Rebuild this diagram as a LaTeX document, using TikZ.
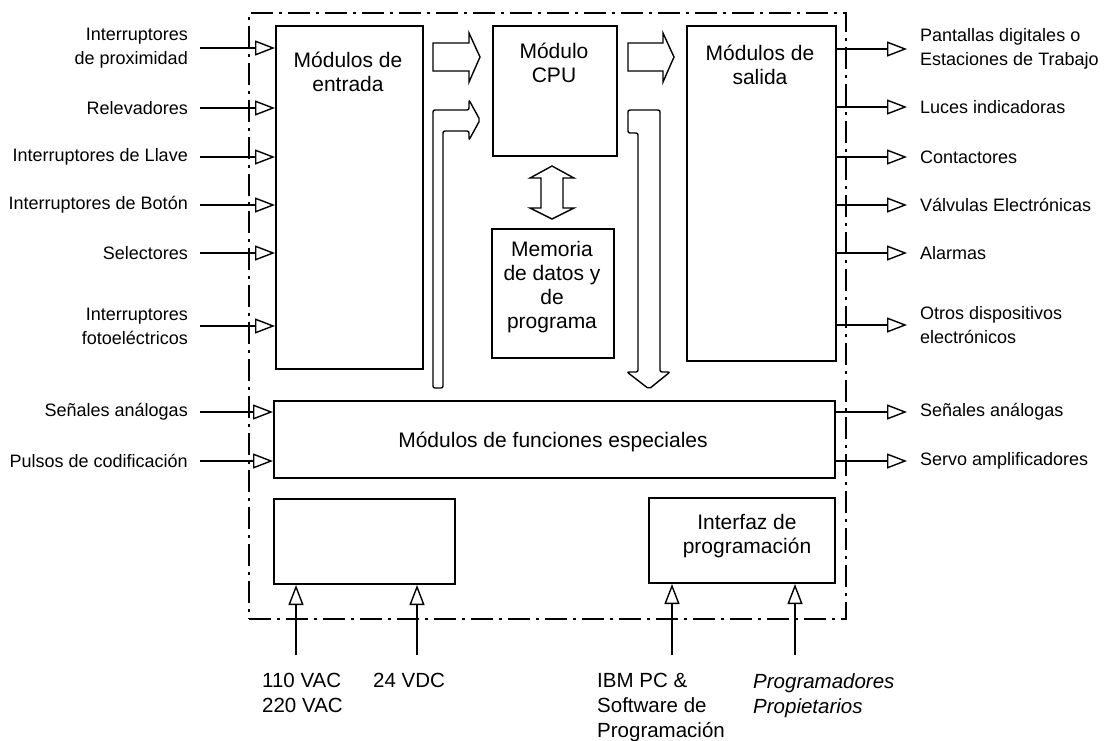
\documentclass[tikz,border=0pt]{standalone}
\usepackage{fontspec}
\setmainfont{Liberation Sans}
\usetikzlibrary{arrows.meta}
\begin{document}
\begin{tikzpicture}[x=1pt,y=-1pt,
  box/.style={draw, line width=2pt, anchor=north west, inner sep=0pt},
  lab/.style={inner sep=0pt, font=\fontsize{18}{24}\selectfont},
  boxtext/.style={inner sep=0pt, align=center, font=\fontsize{21}{24}\selectfont},
  btm/.style={inner sep=0pt, anchor=north west, align=left, font=\fontsize{20.5}{25}\selectfont},
  sig/.style={line width=1.8pt, -{Triangle[open, length=20pt, width=15pt, line width=1.4pt]}},
  plcframe/.style={draw, line width=1.8pt, dash pattern=on 22pt off 6pt on 3pt off 6pt, anchor=north west, inner sep=0pt},
  bus/.style={draw, line width=1.4pt, fill=white, line join=miter}
]
\useasboundingbox (0,0) rectangle (1104,740);

% outer frame
\node[plcframe, minimum width=597pt, minimum height=606pt] (plc) at (248,12) {};

% boxes
\node[box, minimum width=147pt, minimum height=343pt] (in) at (275,25) {};
\node[box, minimum width=124pt, minimum height=130pt] (cpu) at (492,25) {};
\node[box, minimum width=122pt, minimum height=129pt] (mem) at (491,228) {};
\node[box, minimum width=149pt, minimum height=335pt] (out) at (686,25) {};
\node[box, minimum width=561pt, minimum height=77pt] (spec) at (273,400) {};
\node[box, minimum width=181pt, minimum height=85pt] (pow) at (273,498) {};
\node[box, minimum width=186pt, minimum height=85pt] (prog) at (648,497) {};

% box texts
\node[boxtext] (inT) at (348,72) {Módulos de\\entrada};
\node[boxtext] (cpuT) at (554,63) {Módulo\\CPU};
\node[boxtext] (outT) at (760,65) {Módulos de\\salida};
\node[boxtext] (memT) at (552,287) {Memoria\\de datos y\\de\\programa};
\node[boxtext] (specT) at (553,442) {Módulos de funciones especiales};
\node[boxtext] (progT) at (747,536) {Interfaz de\\programación};

% bus arrows
\draw[bus] (433,43) -- (469,43) -- (469,33) -- (480,57) -- (469,82) -- (469,71) -- (433,71) -- cycle;
\draw[bus] (628,43) -- (663,43) -- (663,33) -- (674,57) -- (663,82) -- (663,71) -- (628,71) -- cycle;
\draw[bus, rounded corners=2pt] (433,388) -- (433,110) -- (469,110) -- (469,100) -- (480,120) -- (469,140) -- (469,131) -- (443,131) -- (443,388) -- cycle;
\draw[bus, rounded corners=2pt] (628,110) -- (660,110) -- (660,372) -- (670,372) -- (649,389) -- (627,372) -- (638,372) -- (638,133) -- (628,133) -- cycle;
\draw[bus] (541,178) -- (530,178) -- (552,166) -- (574,178) -- (563,178) -- (563,208) -- (574,208) -- (552,219) -- (530,208) -- (541,208) -- cycle;

% left inputs
\node[lab, anchor=east, align=right] (i1) at (188,48) {Interruptores\\de proximidad};
\node[lab, anchor=east] (i2) at (188,108) {Relevadores};
\node[lab, anchor=east] (i3) at (188,157) {Interruptores de Llave};
\node[lab, anchor=east] (i4) at (188,205) {Interruptores de Botón};
\node[lab, anchor=east] (i5) at (188,253) {Selectores};
\node[lab, anchor=east, align=right] (i6) at (188,326) {Interruptores\\fotoeléctricos};
\node[lab, anchor=east] (i7) at (188,412) {Señales análogas};
\node[lab, anchor=east] (i8) at (188,461) {Pulsos de codificación};
\foreach \n in {i1,i2,i3,i4,i5,i6}
  \draw[sig] ([xshift=12pt]\n.east) -- (\n.east -| in.west);
\foreach \n in {i7,i8}
  \draw[sig] ([xshift=12pt]\n.east) -- (\n.east -| spec.west);

% right outputs
\node[lab, anchor=west, align=left] (o1) at (920,49) {Pantallas digitales o\\Estaciones de Trabajo};
\node[lab, anchor=west] (o2) at (920,107) {Luces indicadoras};
\node[lab, anchor=west] (o3) at (920,157) {Contactores};
\node[lab, anchor=west] (o4) at (920,205) {Válvulas Electrónicas};
\node[lab, anchor=west] (o5) at (920,253) {Alarmas};
\node[lab, anchor=west, align=left] (o6) at (920,325) {Otros dispositivos\\electrónicos};
\node[lab, anchor=west] (o7) at (920,412) {Señales análogas};
\node[lab, anchor=west] (o8) at (920,461) {Servo amplificadores};
\foreach \n in {o1,o2,o3,o4,o5,o6}
  \draw[sig] (\n.west -| out.east) -- ([xshift=-13pt]\n.west);
\foreach \n in {o7,o8}
  \draw[sig] (\n.west -| spec.east) -- ([xshift=-13pt]\n.west);

% bottom inputs
\node[btm] (b1) at (262,673) {110 VAC\\220 VAC};
\node[btm] (b2) at (373,673) {24 VDC};
\node[btm] (b3) at (597,673) {IBM PC \&\\Software de\\Programación};
\node[btm, font=\fontsize{20.5}{25}\selectfont\itshape] (b4) at (753,673) {Programadores\\Propietarios};
\coordinate (c1) at (296,655);
\coordinate (c2) at (417,655);
\coordinate (c3) at (672,655);
\coordinate (c4) at (795,655);
\draw[sig] (c1) -- (c1 |- pow.south);
\draw[sig] (c2) -- (c2 |- pow.south);
\draw[sig] (c3) -- (c3 |- prog.south);
\draw[sig] (c4) -- (c4 |- prog.south);
\end{tikzpicture}
\end{document}
